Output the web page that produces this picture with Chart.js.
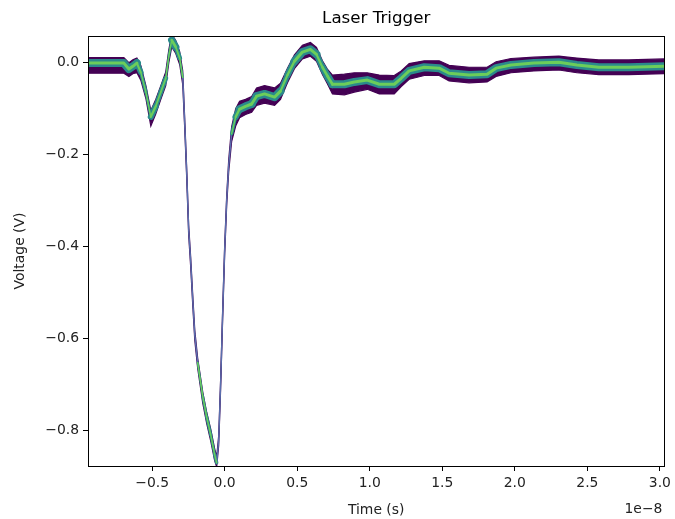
<!DOCTYPE html>
<html>
<head>
<meta charset="utf-8">
<script src="https://cdn.jsdelivr.net/npm/chart.js@4.4.1/dist/chart.umd.min.js"></script>
<style>
  body { margin: 0; background: #fff; }
  #wrap { width: 675px; height: 519px; }
</style>
</head>
<body>
<div id="wrap"><canvas id="myChart" width="675" height="519"></canvas></div>
<script>
// time in units of 1e-8 s, voltage in V
var times = [-0.942, -0.695, -0.660, -0.633, -0.605, -0.578, -0.543, -0.509, -0.475, -0.440,
  -0.406, -0.385, -0.365, -0.337, -0.310, -0.289, -0.275, -0.261, -0.248, -0.234,
  -0.220, -0.206, -0.186, -0.151, -0.124, -0.096, -0.069, -0.055, -0.041, -0.028,
  -0.014, 0.000, 0.014, 0.028, 0.048, 0.076, 0.103, 0.144, 0.186, 0.220,
  0.275, 0.344, 0.385, 0.433, 0.481, 0.536, 0.591, 0.633, 0.674, 0.708,
  0.743, 0.825, 0.894, 0.983, 1.066, 1.169, 1.217, 1.272, 1.376, 1.479,
  1.547, 1.685, 1.809, 1.871, 1.974, 2.132, 2.304, 2.428, 2.579, 2.785, 3.031];

// most populated voltage per time
var centerV = [-0.001, -0.001, -0.014, -0.008, -0.001, -0.021, -0.064, -0.118, -0.095, -0.064,
  -0.034, 0.014, 0.049, 0.034, 0.010, -0.032, -0.134, -0.245, -0.364, -0.434,
  -0.516, -0.592, -0.653, -0.727, -0.771, -0.810, -0.853, -0.871, -0.821, -0.701,
  -0.549, -0.408, -0.299, -0.223, -0.155, -0.118, -0.101, -0.095, -0.090, -0.073,
  -0.068, -0.075, -0.062, -0.027, 0.003, 0.023, 0.029, 0.018, -0.010, -0.029,
  -0.047, -0.047, -0.042, -0.038, -0.047, -0.047, -0.034, -0.018, -0.010, -0.012,
  -0.023, -0.027, -0.025, -0.012, -0.005, -0.001, 0.001, -0.005, -0.010, -0.010, -0.008];

// upper and lower edge of the occupied bins
var bandTop = [0.011, 0.011, 0.000, 0.006, 0.010, -0.006, -0.050, -0.104, -0.080, -0.050,
  -0.020, 0.028, 0.062, 0.048, 0.024, -0.018, -0.124, -0.235, -0.354, -0.424,
  -0.506, -0.582, -0.643, -0.717, -0.761, -0.798, -0.840, -0.858, -0.811, -0.691,
  -0.539, -0.398, -0.289, -0.211, -0.140, -0.100, -0.084, -0.080, -0.074, -0.055,
  -0.050, -0.055, -0.045, -0.012, 0.017, 0.038, 0.044, 0.033, 0.004, -0.014,
  -0.027, -0.025, -0.022, -0.022, -0.027, -0.028, -0.018, -0.002, 0.004, 0.004,
  -0.006, -0.010, -0.010, 0.002, 0.009, 0.012, 0.014, 0.010, 0.006, 0.006, 0.008];

var bandBottom = [-0.023, -0.023, -0.030, -0.024, -0.022, -0.038, -0.078, -0.138, -0.112, -0.080,
  -0.050, 0.000, 0.034, 0.020, -0.004, -0.048, -0.146, -0.257, -0.376, -0.446,
  -0.528, -0.604, -0.665, -0.741, -0.785, -0.824, -0.866, -0.880, -0.833, -0.713,
  -0.561, -0.420, -0.311, -0.237, -0.172, -0.138, -0.120, -0.113, -0.108, -0.093,
  -0.088, -0.093, -0.080, -0.044, -0.013, 0.008, 0.014, 0.003, -0.026, -0.046,
  -0.068, -0.070, -0.064, -0.058, -0.068, -0.068, -0.052, -0.036, -0.028, -0.028,
  -0.040, -0.044, -0.042, -0.030, -0.022, -0.018, -0.016, -0.022, -0.026, -0.026, -0.024];

var xTicks = [-0.5, 0.0, 0.5, 1.0, 1.5, 2.0, 2.5, 3.0];
var yTicks = [-0.8, -0.6, -0.4, -0.2, 0.0];
var xRange = [-0.942, 3.031];
var yRange = [-0.878, 0.058];

function pts(ys) {
  return times.map(function(t, i) { return { x: t, y: ys[i] }; });
}
function slope(ctx) {
  var dx = Math.abs(ctx.p1.x - ctx.p0.x) || 0.01;
  return Math.abs(ctx.p1.y - ctx.p0.y) / dx;
}
// keep roughly constant vertical thickness, like a per-column histogram
function coreWidth(ctx, w) {
  var s = slope(ctx);
  return Math.max(1.4, Math.min(w, 1.8 * w / Math.sqrt(1 + s * s)));
}
function fmt(v) {
  var s = Math.abs(v).toFixed(1);
  return (v < -1e-9 ? "\u2212" : "") + s;
}
var tickFont = { family: "DejaVu Sans", size: 13.9 };

var framePlugin = {
  id: "frame",
  afterDraw: function(chart) {
    var c = chart.ctx, a = chart.chartArea;
    c.save();
    c.strokeStyle = "#000";
    c.lineWidth = 1;
    c.strokeRect(Math.round(a.left) + 0.5, Math.round(a.top) + 0.5,
      Math.round(a.right - a.left), Math.round(a.bottom - a.top));
    c.fillStyle = "#222";
    c.font = "13.9px 'DejaVu Sans'";
    c.textAlign = "right";
    c.textBaseline = "middle";
    c.fillText("1e\u22128", a.right - 2, 509);
    c.restore();
  }
};

var ctx = document.getElementById("myChart").getContext("2d");
var myChart = new Chart(ctx, {
  type: "line",
  data: {
    datasets: [
      {
        data: pts(bandTop),
        borderColor: "#440154",
        borderWidth: 1.2,
        pointRadius: 0,
        fill: false,
        order: 4
      },
      {
        data: pts(bandBottom),
        borderColor: "#440154",
        borderWidth: 1.2,
        backgroundColor: "#440154",
        pointRadius: 0,
        fill: "-1",
        order: 3
      },
      {
        data: pts(centerV),
        borderColor: "#2a8a8c",
        borderWidth: 8,
        borderCapStyle: "round",
        borderJoinStyle: "round",
        pointRadius: 0,
        fill: false,
        order: 2,
        segment: {
          borderWidth: function(c) { return coreWidth(c, 8); },
          borderColor: function(c) { return slope(c) > 8 ? "#5a6fae" : "#2a8a8c"; }
        }
      },
      {
        data: pts(centerV),
        borderColor: "#6ccd5a",
        borderWidth: 3,
        borderCapStyle: "round",
        borderJoinStyle: "round",
        pointRadius: 0,
        fill: false,
        order: 1,
        segment: {
          borderWidth: function(c) { return slope(c) > 8 ? 0.01 : coreWidth(c, 3); },
          borderColor: function(c) { return slope(c) > 8 ? "rgba(0,0,0,0)" : "#6ccd5a"; }
        }
      }
    ]
  },
  options: {
    responsive: false,
    animation: false,
    layout: { padding: { left: 0, right: 9, top: 0, bottom: 0 } },
    plugins: {
      legend: { display: false },
      tooltip: { enabled: false }
    },
    scales: {
      x: {
        type: "linear",
        position: "bottom",
        min: xRange[0],
        max: xRange[1],
        afterBuildTicks: function(s) { s.ticks = xTicks.map(function(v) { return { value: v }; }); },
        afterFit: function(s) { s.height = 53; },
        grid: { drawOnChartArea: false, drawTicks: true, tickLength: 5, tickColor: "#000", tickWidth: 1 },
        border: { display: false },
        ticks: { color: "#222", font: tickFont, padding: 4, maxRotation: 0, callback: function(v) { return fmt(v); } },
        title: { display: true, text: "Time (s)", color: "#222", font: tickFont, padding: { top: 2, bottom: 0 } }
      },
      xTop: {
        type: "linear",
        position: "top",
        min: xRange[0],
        max: xRange[1],
        afterFit: function(s) { s.height = 36; },
        grid: { display: false },
        border: { display: false },
        ticks: { display: false },
        title: { display: true, text: "Laser Trigger", color: "#000", font: { family: "DejaVu Sans", size: 16.7 }, padding: { top: 9, bottom: 0 } }
      },
      y: {
        type: "linear",
        position: "left",
        min: yRange[0],
        max: yRange[1],
        afterBuildTicks: function(s) { s.ticks = yTicks.map(function(v) { return { value: v }; }); },
        afterFit: function(s) { s.width = 88; },
        grid: { drawOnChartArea: false, drawTicks: true, tickLength: 5, tickColor: "#000", tickWidth: 1 },
        border: { display: false },
        ticks: { color: "#222", font: tickFont, padding: 4, callback: function(v) { return fmt(v); } },
        title: { display: true, text: "Voltage (V)", color: "#222", font: tickFont, padding: { top: 12, bottom: 4 } }
      }
    }
  },
  plugins: [framePlugin]
});
</script>
</body>
</html>
